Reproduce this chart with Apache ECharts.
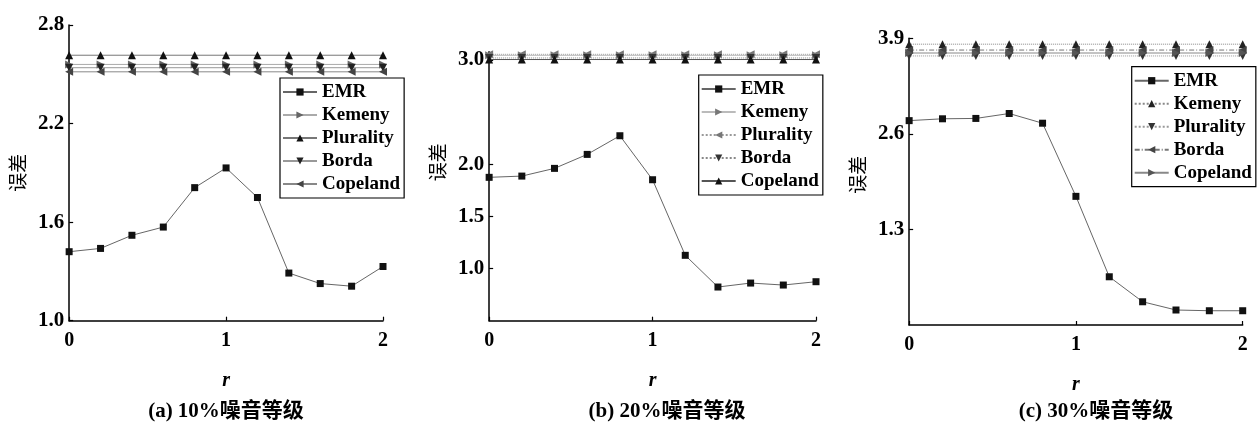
<!DOCTYPE html>
<html>
<head>
<meta charset="utf-8">
<script src="https://cdn.jsdelivr.net/npm/echarts@6/dist/echarts.min.js"></script>
<style>
html,body{margin:0;padding:0;background:#fff;}
#wrap{position:relative;width:1260px;height:435px;}
.p{position:absolute;top:0;width:420px;height:435px;}
</style>
</head>
<body>
<div id="wrap">
<div class="p" id="c0" style="left:0px"></div>
<div class="p" id="c1" style="left:420px"></div>
<div class="p" id="c2" style="left:840px"></div>
</div>
<script>
// ---- data ----
const rValues = [0, 0.2, 0.4, 0.6, 0.8, 1.0, 1.2, 1.4, 1.6, 1.8, 2.0];
const seriesNames = ['EMR', 'Kemeny', 'Plurality', 'Borda', 'Copeland'];
const captions = ['(a) 10%噪音等级', '(b) 20%噪音等级', '(c) 30%噪音等级'];

// (a) 10% noise
const emrA       = [1.42, 1.44, 1.52, 1.57, 1.81, 1.93, 1.75, 1.29, 1.226, 1.21, 1.33];
const kemenyA    = [2.56, 2.56, 2.56, 2.56, 2.56, 2.56, 2.56, 2.56, 2.56, 2.56, 2.56];
const pluralityA = [2.616, 2.616, 2.616, 2.616, 2.616, 2.616, 2.616, 2.616, 2.616, 2.616, 2.616];
const bordaA     = [2.54, 2.54, 2.54, 2.54, 2.54, 2.54, 2.54, 2.54, 2.54, 2.54, 2.54];
const copelandA  = [2.515, 2.515, 2.515, 2.515, 2.515, 2.515, 2.515, 2.515, 2.515, 2.515, 2.515];
const yTicksA    = [1.0, 1.6, 2.2, 2.8];

// (b) 20% noise
const emrB       = [1.875, 1.887, 1.961, 2.095, 2.274, 1.852, 1.127, 0.823, 0.861, 0.842, 0.874];
const kemenyB    = [3.045, 3.045, 3.045, 3.045, 3.045, 3.045, 3.045, 3.045, 3.045, 3.045, 3.045];
const pluralityB = [3.055, 3.055, 3.055, 3.055, 3.055, 3.055, 3.055, 3.055, 3.055, 3.055, 3.055];
const bordaB     = [3.02, 3.02, 3.02, 3.02, 3.02, 3.02, 3.02, 3.02, 3.02, 3.02, 3.02];
const copelandB  = [3.005, 3.005, 3.005, 3.005, 3.005, 3.005, 3.005, 3.005, 3.005, 3.005, 3.005];
const yTicksB    = [1.0, 1.5, 2.0, 3.0];

// (c) 30% noise
const emrC       = [2.78, 2.805, 2.81, 2.877, 2.745, 1.75, 0.656, 0.316, 0.204, 0.194, 0.194];
const kemenyC    = [3.82, 3.82, 3.82, 3.82, 3.82, 3.82, 3.82, 3.82, 3.82, 3.82, 3.82];
const pluralityC = [3.66, 3.66, 3.66, 3.66, 3.66, 3.66, 3.66, 3.66, 3.66, 3.66, 3.66];
const bordaC     = [3.74, 3.74, 3.74, 3.74, 3.74, 3.74, 3.74, 3.74, 3.74, 3.74, 3.74];
const copelandC  = [3.70, 3.70, 3.70, 3.70, 3.70, 3.70, 3.70, 3.70, 3.70, 3.70, 3.70];
const yTicksC    = [1.3, 2.6, 3.9];
const xTicks     = [0, 1, 2];

// ---- styles ----
const SERIF = "'Liberation Serif', 'DejaVu Serif', serif";
const CJK = "'Noto Sans CJK SC', sans-serif";
const zip = arr => rValues.map((x, i) => [x, arr[i]]);

// symbol specs: [symbol, rotate]
const SQ = ['rect', 0], UP = ['triangle', 0], DOWN = ['triangle', 180], LEFT = ['triangle', 90], RIGHT = ['triangle', -90];

function mkSeries(name, values, sym, lineColor, lineType, markColor, size) {
  return {
    name: name, type: 'line', data: zip(values),
    symbol: sym[0], symbolRotate: sym[1], symbolSize: size || 8,
    showAllSymbol: true, clip: false,
    lineStyle: { color: lineColor, width: 1, type: lineType },
    itemStyle: { color: markColor },
    emphasis: { disabled: true },
    z: name === 'EMR' ? 5 : 3
  };
}

const panels = [
  {
    grid: { left: 66, right: 37, top: 25, bottom: 114.3 },
    y: { min: 1.0, max: 2.8, interval: 0.6, ticks: yTicksA },
    legend: { left: 280, top: 78 },
    yName: { gap: 40, pad: [0, 0, 0, 0] },
    caption: 226,
    series: [
      mkSeries('EMR', emrA, SQ, '#666', 'solid', '#111', 7),
      mkSeries('Kemeny', kemenyA, RIGHT, '#aaa', 'solid', '#666'),
      mkSeries('Plurality', pluralityA, UP, '#777', 'solid', '#111'),
      mkSeries('Borda', bordaA, DOWN, '#999', 'solid', '#222'),
      mkSeries('Copeland', copelandA, LEFT, '#888', 'solid', '#444')
    ]
  },
  {
    grid: { left: 51.7, right: 24, top: 51.7, bottom: 114.3 },
    y: { min: 0.5, max: 3.08, interval: 0.5, ticks: yTicksB },
    legend: { left: 278.7, top: 75 },
    yName: { gap: 31, pad: [0, 0, 0, 48] },
    caption: 247,
    series: [
      mkSeries('EMR', emrB, SQ, '#666', 'solid', '#111', 7),
      mkSeries('Kemeny', kemenyB, RIGHT, '#bbb', 'solid', '#777'),
      mkSeries('Plurality', pluralityB, LEFT, '#999', 'dotted', '#777'),
      mkSeries('Borda', bordaB, DOWN, '#888', 'dotted', '#333'),
      mkSeries('Copeland', copelandB, UP, '#555', 'solid', '#111')
    ]
  },
  {
    grid: { left: 63.3, right: 17.3, top: 38.3, bottom: 110 },
    y: { min: 0, max: 3.9, interval: 1.3, ticks: yTicksC },
    legend: { left: 291.7, top: 66.7 },
    yName: { gap: 39, pad: [0, 0, 0, 14] },
    caption: 256,
    series: [
      mkSeries('EMR', emrC, SQ, '#666', 'solid', '#111', 7),
      mkSeries('Kemeny', kemenyC, UP, '#888', 'dotted', '#222'),
      mkSeries('Plurality', pluralityC, DOWN, '#999', 'dotted', '#333'),
      mkSeries('Borda', bordaC, LEFT, '#777', [5, 2, 1, 2], '#444'),
      mkSeries('Copeland', copelandC, RIGHT, '#888', 'solid', '#555')
    ]
  }
];

panels.forEach((p, idx) => {
  const chart = echarts.init(document.getElementById('c' + idx), null, { renderer: 'canvas' });
  const axisLine = { show: true, onZero: false, lineStyle: { color: '#000', width: 1.5 } };
  chart.setOption({
    animation: false,
    backgroundColor: '#fff',
    grid: p.grid,
    legend: {
      orient: 'vertical', left: p.legend.left, top: p.legend.top,
      data: seriesNames,
      backgroundColor: '#fff', borderColor: '#000', borderWidth: 1.2, borderRadius: 0,
      padding: [4, 4, 4, 2], itemGap: 3, itemWidth: 34, itemHeight: 9,
      symbolRotate: 'inherit',
      selectedMode: false,
      textStyle: { fontFamily: SERIF, fontWeight: 'bold', fontSize: 19, color: '#000', lineHeight: 20 }
    },
    xAxis: {
      type: 'value', min: 0, max: 2, interval: 1,
      name: 'r', nameLocation: 'middle', nameGap: 50,
      nameTextStyle: { fontFamily: SERIF, fontStyle: 'italic', fontWeight: 'bold', fontSize: 20, color: '#000' },
      axisLine: axisLine,
      axisTick: { show: true, inside: true, length: 4, lineStyle: { color: '#000', width: 1.2 }, customValues: xTicks },
      axisLabel: { customValues: xTicks, margin: 10, fontFamily: SERIF, fontWeight: 'bold', fontSize: 20, color: '#000' },
      splitLine: { show: false }
    },
    yAxis: {
      type: 'value', min: p.y.min, max: p.y.max, interval: p.y.interval,
      name: '误差', nameLocation: 'middle', nameGap: p.yName.gap,
      nameTextStyle: { fontFamily: CJK, fontSize: 19, color: '#000', padding: p.yName.pad },
      axisLine: axisLine,
      axisTick: { show: true, inside: true, length: 4, lineStyle: { color: '#000', width: 1.2 }, customValues: p.y.ticks },
      axisLabel: {
        customValues: p.y.ticks, margin: 5,
        formatter: v => Number(v).toFixed(1),
        fontFamily: SERIF, fontWeight: 'bold', fontSize: 21, color: '#000'
      },
      splitLine: { show: false }
    },
    graphic: [{
      type: 'text', x: p.caption, y: 412,
      style: {
        text: captions[idx], fill: '#000', align: 'center', verticalAlign: 'middle',
        font: "bold 21px 'Liberation Serif', 'Noto Sans CJK SC', sans-serif"
      }
    }],
    series: p.series
  });
});
</script>
</body>
</html>
